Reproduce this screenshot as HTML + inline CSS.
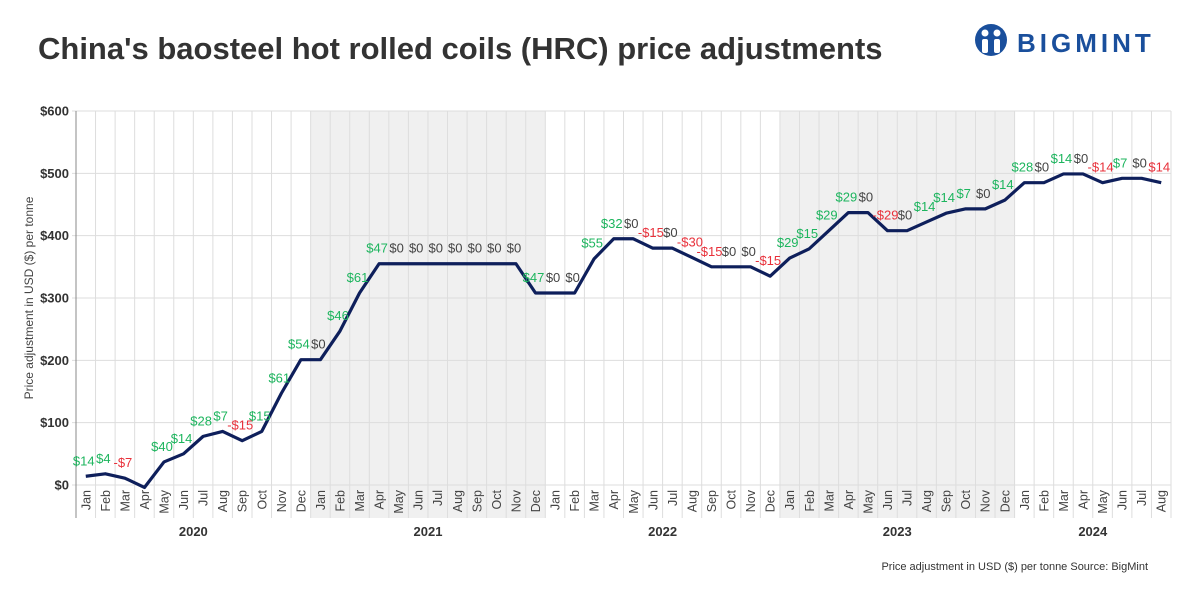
<!DOCTYPE html>
<html><head><meta charset="utf-8"><style>
body{margin:0;background:#fff;font-family:"Liberation Sans",sans-serif;}
#wrap{position:relative;width:1200px;height:600px;overflow:hidden;}
</style></head><body>
<div id="wrap">
<svg id="chart" width="1200" height="600" xmlns="http://www.w3.org/2000/svg">
<text x="38" y="59" font-size="31" font-weight="bold" fill="#333" font-family="Liberation Sans">China's baosteel hot rolled coils (HRC) price adjustments</text>
<g>
<circle cx="991" cy="40" r="16" fill="#1a4f9c"/>
<circle cx="985" cy="33" r="3.5" fill="#fff"/><circle cx="997" cy="33" r="3.5" fill="#fff"/>
<rect x="982" y="39" width="6" height="14" rx="2" fill="#fff"/><rect x="994" y="39" width="6" height="14" rx="2" fill="#fff"/>
<text x="1017" y="52" font-size="26" font-weight="bold" fill="#1a4f9c" letter-spacing="4" font-family="Liberation Sans">BIGMINT</text>
</g>
<g id="plot"></g>
<text transform="translate(33,298) rotate(-90)" text-anchor="middle" font-size="12" fill="#444">Price adjustment in USD ($) per tonne</text>
<text x="1148" y="570" text-anchor="end" font-size="11" fill="#333">Price adjustment in USD ($) per tonne Source: BigMint</text>
</svg>
</div>
<script>
const months=["Jan","Feb","Mar","Apr","May","Jun","Jul","Aug","Sep","Oct","Nov","Dec"];
const years=["2020","2021","2022","2023","2024"];
const prices=[14,18,11,-4,37,50,78,86,71,86,147,201, 201,247,308,355,355,355,355,355,355,355,355,308, 308,308,363,395,395,380,380,365,350,350,350,335, 364,379,408,437,437,408,408,422,436,443,443,457, 485,485,499,499,485,492,492,485];
const changeLabels=["$14","$4","-$7","","$40","$14","$28","$7","-$15","$15","$61","$54", "$0","$46","$61","$47","$0","$0","$0","$0","$0","$0","$0","$47", "$0","$0","$55","$32","$0","-$15","$0","-$30","-$15","$0","$0","-$15", "$29","$15","$29","$29","$0","-$29","$0","$14","$14","$7","$0","$14", "$28","$0","$14","$0","-$14","$7","$0","$14"];
const labelColors=["g","g","r","","g","g","g","g","r","g","g","g", "k","g","g","g","k","k","k","k","k","k","k","g", "k","k","g","g","k","r","k","r","r","k","k","r", "g","g","g","g","k","r","k","g","g","g","k","g", "g","k","g","k","r","g","k","r"];
const yTicks=[0,100,200,300,400,500,600];
const L=76,R=1171,T=111,B=485,N=prices.length;
const cw=(R-L)/N;
const xs=i=>L+(i+0.5)*cw;
const ys=v=>B-(v/600)*(B-T);
const ns="http://www.w3.org/2000/svg";
const g=document.getElementById('plot');
function mk(t,a){const e=document.createElementNS(ns,t);for(const k in a)e.setAttribute(k,a[k]);g.appendChild(e);return e;}
[1,3].forEach(y=>{const r=mk('rect',{x:L+y*12*cw,y:T,width:Math.min(12,N-y*12)*cw,height:518-T,fill:'#f0f0f0'});

});
for(let i=0;i<=N;i++){const l=mk('line',{x1:L+i*cw,x2:L+i*cw,y1:T,y2:518,stroke:'#ddd','stroke-width':1});

}
yTicks.forEach(v=>{const l=mk('line',{x1:L-4,x2:R,y1:ys(v),y2:ys(v),stroke:'#ddd','stroke-width':1});


const t=mk('text',{x:L-7,y:ys(v)+4.5,'text-anchor':'end','font-size':13,'font-weight':'bold',fill:'#333'});t.textContent='$'+v;

});
const ax=mk('line',{x1:L,x2:L,y1:T,y2:518,stroke:'#888','stroke-width':1});


prices.forEach((p,i)=>{const t=mk('text',{transform:`translate(${xs(i)+4.5},${490}) rotate(-90)`,'text-anchor':'end','font-size':12.5,fill:'#444'});t.textContent=months[i%12];

});
years.forEach((y,k)=>{const n=Math.min(12,N-k*12);const t=mk('text',{x:L+(k*12+n/2)*cw,y:536,'text-anchor':'middle','font-size':13,'font-weight':'bold',fill:'#333'});t.textContent=y;

});
const path=mk('polyline',{points:prices.map((p,i)=>xs(i)+','+ys(p)).join(' '),fill:'none',stroke:'#0e1f5b','stroke-width':3.2,'stroke-linejoin':'round'});


const cols={g:'#1db55e',r:'#e8303a',k:'#444'};
changeLabels.forEach((s,i)=>{if(!s)return;const t=mk('text',{x:xs(i)-2,y:ys(prices[i])-11,'text-anchor':'middle','font-size':13,fill:cols[labelColors[i]]});t.textContent=s;

});
</script>
</body></html>
